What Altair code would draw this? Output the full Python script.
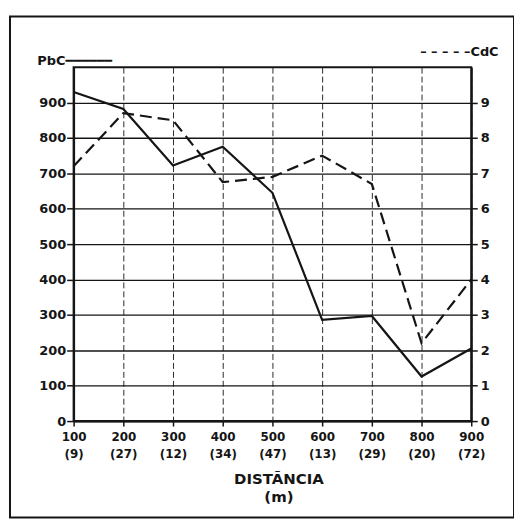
import altair as alt
import pandas as pd

# ---- data ----
distancia = [100, 200, 300, 400, 500, 600, 700, 800, 900]
amostras = [9, 27, 12, 34, 47, 13, 29, 20, 72]
pbc = [930, 882, 722, 775, 645, 286, 297, 126, 205]
cdc = [7.2, 8.7, 8.5, 6.75, 6.9, 7.5, 6.7, 2.2, 4.0]

left_ticks = [0, 100, 200, 300, 400, 500, 600, 700, 800, 900]
right_ticks = [0, 1, 2, 3, 4, 5, 6, 7, 8, 9]

df = pd.DataFrame({"dist": distancia, "n": amostras, "PbC": pbc, "CdC": cdc})

FONT = "DejaVu Sans"
INK = "#151515"

label_map = "{" + ",".join(f"'{d}':'({k})'" for d, k in zip(distancia, amostras)) + "}"
x_label_expr = f"[datum.label, {label_map}[datum.label]]"

x_enc = alt.X(
    "dist:Q",
    scale=alt.Scale(domain=[100, 900], nice=False, zero=False),
    axis=alt.Axis(
        values=distancia,
        title=["DISTÃNCIA", "(m)"],
        titleFont=FONT, titleFontSize=15, titleFontWeight="bold", titleColor=INK,
        titlePadding=12, titleLineHeight=18, titleX=206,
        labelExpr=x_label_expr, labelFont=FONT, labelFontSize=12,
        labelFontWeight="bold", labelColor=INK, labelLineHeight=17,
        labelPadding=6, labelBaseline="top", labelFlush=False, labelOverlap=False,
        labelBound=False,
        tickSize=5, tickColor=INK, tickWidth=1.5,
        domainColor=INK, domainWidth=2,
        grid=True, gridColor="#2a2a2a", gridDash=[6, 3], gridWidth=1,
    ),
)

pbc_line = alt.Chart(df).mark_line(color=INK, strokeWidth=2.2).encode(
    x=x_enc,
    y=alt.Y(
        "PbC:Q",
        scale=alt.Scale(domain=[0, 1000], nice=False),
        axis=alt.Axis(
            values=left_ticks, orient="left",
            title="PbC━━━━━━", titleAngle=0, titleAlign="left", titleBaseline="middle",
            titleX=-37, titleY=-7, titleFont=FONT, titleFontSize=13,
            titleFontWeight="bold", titleColor=INK,
            labelFont=FONT, labelFontSize=13, labelFontWeight="bold", labelColor=INK,
            labelPadding=1, tickSize=7, tickColor=INK, tickWidth=1.5,
            domainColor=INK, domainWidth=2,
            grid=True, gridColor=INK, gridWidth=1.3,
        ),
    ),
)

cdc_line = alt.Chart(df).mark_line(color=INK, strokeWidth=2.2, strokeDash=[12, 6]).encode(
    x=x_enc,
    y=alt.Y(
        "CdC:Q",
        scale=alt.Scale(domain=[0, 10], nice=False),
        axis=alt.Axis(
            values=right_ticks, orient="right",
            title="– – – – –CdC", titleAngle=0, titleAlign="right", titleBaseline="middle",
            titleX=27, titleY=-16, titleFont=FONT, titleFontSize=13,
            titleFontWeight="bold", titleColor=INK,
            labelFont=FONT, labelFontSize=13, labelFontWeight="bold", labelColor=INK,
            labelPadding=3, tickSize=6, tickColor=INK, tickWidth=1.5,
            domainColor=INK, domainWidth=2, grid=False,
        ),
    ),
)

# decorative outer frame of the figure
frame = alt.Chart(pd.DataFrame({"f": [0]})).mark_rect(
    fill=None, stroke=INK, strokeWidth=2
).encode(
    x=alt.value(-64), x2=alt.value(443), y=alt.value(-51), y2=alt.value(453)
)

chart = alt.layer(frame, pbc_line, cdc_line).resolve_scale(y="independent").properties(
    width=400, height=356,
    autosize=alt.AutoSizeParams(type="none"),
    padding={"left": 66, "top": 58, "right": 43, "bottom": 98},
    background="white",
).configure_view(stroke=INK, strokeWidth=2)

chart.save("out.html", embed_options={"renderer": "svg", "actions": False})
